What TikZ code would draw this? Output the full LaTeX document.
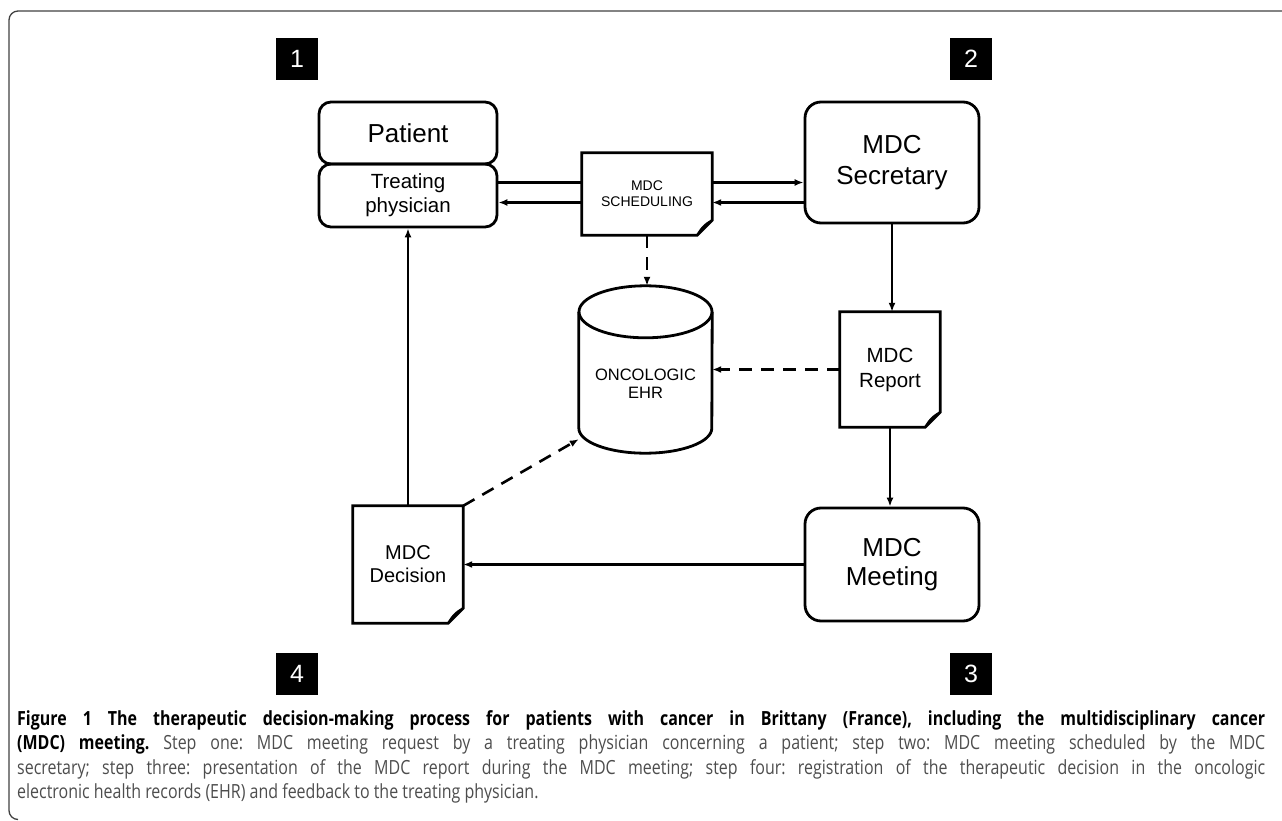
\documentclass[tikz,border=0pt]{standalone}
\usepackage{fontspec}
\setmainfont{Liberation Sans}
\newfontfamily\capfont[FakeStretch=0.82]{Open Sans}
\usepackage{xcolor}
\usetikzlibrary{positioning, arrows.meta, shapes.geometric}

\definecolor{captext}{HTML}{4D4D4D}

\tikzset{
  roundbox/.style={draw, line width=2.8pt, rounded corners=#1, align=center, inner sep=0pt},
  roundbox/.default=12pt,
  docbox/.style={align=center, inner sep=0pt},
  stepbox/.style={fill=black, text=white, minimum size=42pt, inner sep=0pt,
    font=\fontsize{25}{25}\selectfont},
  flow/.style={-{Latex[length=9pt,width=7pt]}, line width=2.6pt},
  plain/.style={line width=2.6pt},
  store/.style={-{Latex[length=9pt,width=7pt]}, line width=2.6pt, dash pattern=on 13pt off 9pt},
}

% document outline with folded corner
\newcommand{\docshape}[1]{%
  \draw[line width=2.8pt, line join=miter] (#1.north west) -- (#1.north east)
    -- ([yshift=15pt]#1.south east) -- ([xshift=-15pt]#1.south east)
    -- (#1.south west) -- cycle;
  \draw[line width=1.6pt] ([xshift=-15pt]#1.south east)
    .. controls ([xshift=-11pt,yshift=9pt]#1.south east) and ([xshift=-3pt,yshift=14pt]#1.south east)
    .. ([yshift=15pt]#1.south east);
}

\begin{document}
\frenchspacing
\begin{tikzpicture}[x=1pt, y=-1pt]
  \useasboundingbox (0,0) rectangle (1282,821);
  % Frame
  \draw[line width=1.3pt, black!75, rounded corners=9pt] (1284,11) -- (9,11) -- (9,819.5) -- (18,819.5);

  % Step markers
  \node[stepbox] (s1) at (297,59) {1};
  \node[stepbox] (s2) at (971,59) {2};
  \node[stepbox] (s3) at (971,674) {3};
  \node[stepbox] (s4) at (297,674) {4};

  % Actors
  \node[roundbox, minimum width=178pt, minimum height=62pt,
        font=\fontsize{26}{28}\selectfont] (patient) at (408,133) {Patient};
  \node[roundbox, minimum width=178pt, minimum height=63pt,
        font=\fontsize{20.5}{24}\selectfont] (treat) at (408,195.5) {Treating\\physician};
  \node[roundbox=16pt, minimum width=174pt, minimum height=121pt,
        font=\fontsize{26}{31}\selectfont] (sec) at (892,162.5) {MDC\\Secretary};
  \node[roundbox=16pt, minimum width=174pt, minimum height=113pt,
        font=\fontsize{26}{29}\selectfont] (meeting) at (892,564.5) {MDC\\Meeting};

  % Documents
  \node[docbox, minimum width=130pt, minimum height=82pt,
        font=\fontsize{14}{16}\selectfont] (sched) at (647,194) {MDC\\SCHEDULING};
  \node[docbox, minimum width=100pt, minimum height=115pt,
        font=\fontsize{20.5}{25}\selectfont] (report) at (890,369.5) {MDC\\Report};
  \node[docbox, minimum width=110pt, minimum height=117pt,
        font=\fontsize{20}{23}\selectfont] (decision) at (408,564.5) {MDC\\Decision};
  \docshape{sched}
  \docshape{report}
  \docshape{decision}

  % Record store
  \node[minimum width=133pt, minimum height=167pt, inner sep=0pt,
        label={[font=\fontsize{16.5}{18}\selectfont, align=center, yshift=-14pt]center:ONCOLOGIC\\EHR}]
        (ehr) at (645.5,369.5) {};
  \draw[line width=2.8pt] ([yshift=-26pt]ehr.north) ellipse [x radius=66.5pt, y radius=26pt];
  \draw[line width=2.8pt] ([yshift=-26pt]ehr.north west) -- ([yshift=25pt]ehr.south west)
    arc[start angle=180, end angle=360, x radius=66.5pt, y radius=25pt]
    -- ([yshift=-26pt]ehr.north east);

  % Request and scheduling
  \draw[plain] ([yshift=13pt]treat.east) -- ([yshift=13pt]treat.east -| sched.west);
  \draw[flow] ([yshift=13pt]treat.east -| sched.east) -- ([yshift=13pt]treat.east -| sec.west);
  \draw[flow] ([yshift=-7pt]treat.east -| sec.west) -- ([yshift=-7pt]treat.east -| sched.east);
  \draw[flow] ([yshift=-7pt]treat.east -| sched.west) -- ([yshift=-7pt]treat.east);

  % Report, meeting, decision
  \draw[flow] (sec.south) -- (sec.south |- report.north);
  \draw[flow] (report.south) -- (report.south |- meeting.north);
  \draw[flow] (meeting.west) -- (meeting.west -| decision.east);
  \draw[flow] (decision.north) -- (treat.south);

  % Records
  \draw[store] (sched.south) -- (sched.south |- ehr.north);
  \draw[store] (report.west) -- (report.west -| ehr.east);
  \draw[store] (decision.north east) -- ([yshift=14pt]ehr.south west);

  % Caption
  \node[anchor=base west, inner sep=0pt, text width=1248pt, align=justify,
        font=\capfont\fontsize{19.5}{24.5}\selectfont, text=captext] (caption) at (17,725)
    {{\bfseries\color{black}Figure 1 The therapeutic decision-making process for patients with cancer in Brittany (France), including the multidisciplinary cancer\linebreak (MDC) meeting.} Step one: MDC meeting request by a treating physician concerning a patient; step two: MDC meeting scheduled by the MDC\linebreak secretary; step three: presentation of the MDC report during the MDC meeting; step four: registration of the therapeutic decision in the oncologic\linebreak electronic health records (EHR) and feedback to the treating physician.};
\end{tikzpicture}
\end{document}
